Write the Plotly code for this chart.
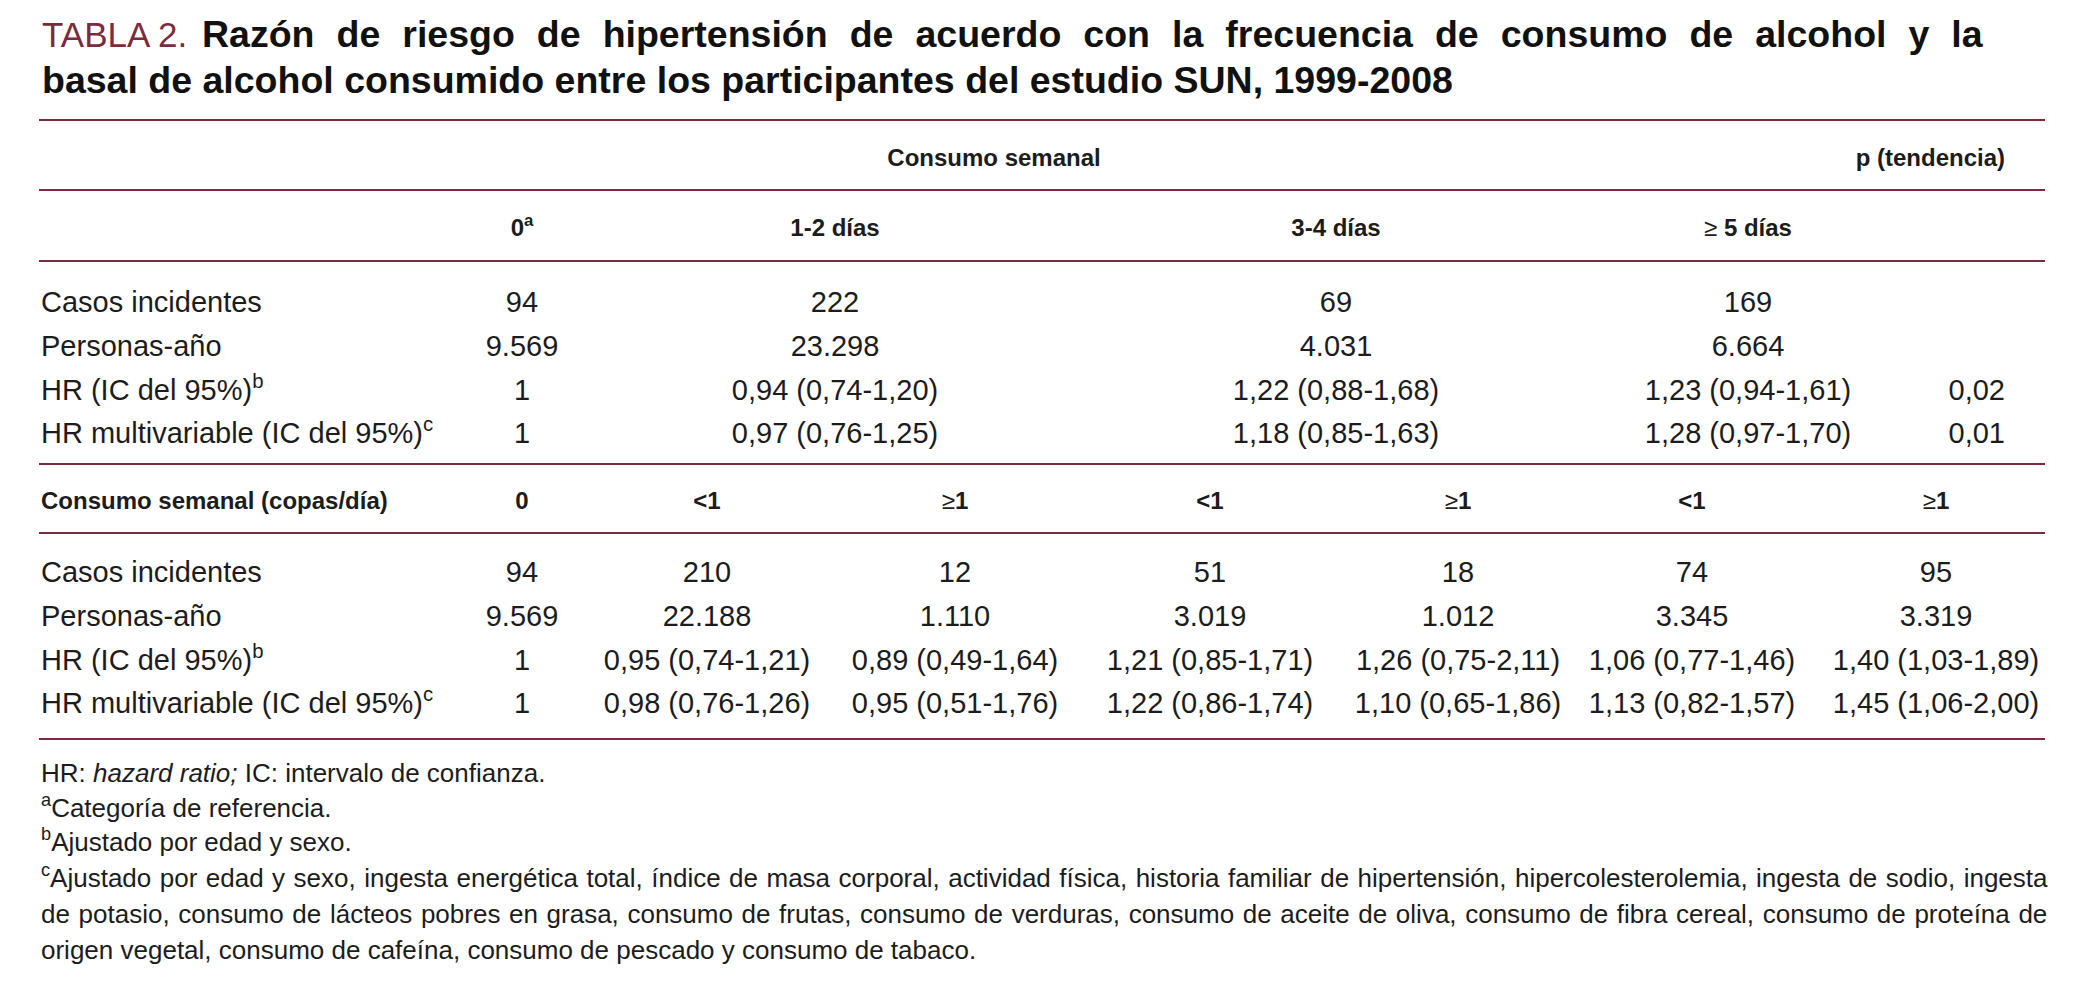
import plotly.graph_objects as go

# ---- data ----
title_tag = "TABLA 2."
title_lines = [
    "Razón de riesgo de hipertensión de acuerdo con la frecuencia de consumo de alcohol y la",
    "basal de alcohol consumido entre los participantes del estudio SUN, 1999-2008",
]

row_labels = [
    "Casos incidentes",
    "Personas-año",
    "HR (IC del 95%)<sup>b</sup>",
    "HR multivariable (IC del 95%)<sup>c</sup>",
]

# frecuencia de consumo
freq_head = "Consumo semanal"
p_head = "p (tendencia)"
freq_groups = ["0<sup>a</sup>", "1-2 días", "3-4 días", "≥ 5 días"]
freq_casos = ["94", "222", "69", "169"]
freq_personas = ["9.569", "23.298", "4.031", "6.664"]
freq_hr = ["1", "0,94 (0,74-1,20)", "1,22 (0,88-1,68)", "1,23 (0,94-1,61)"]
freq_hr_multi = ["1", "0,97 (0,76-1,25)", "1,18 (0,85-1,63)", "1,28 (0,97-1,70)"]
freq_p = ["", "", "0,02", "0,01"]

# cantidad (copas/dia)
qty_label = "Consumo semanal (copas/día)"
qty_groups = ["0", "&lt;1", "≥1", "&lt;1", "≥1", "&lt;1", "≥1"]
qty_casos = ["94", "210", "12", "51", "18", "74", "95"]
qty_personas = ["9.569", "22.188", "1.110", "3.019", "1.012", "3.345", "3.319"]
qty_hr = ["1", "0,95 (0,74-1,21)", "0,89 (0,49-1,64)", "1,21 (0,85-1,71)",
          "1,26 (0,75-2,11)", "1,06 (0,77-1,46)", "1,40 (1,03-1,89)"]
qty_hr_multi = ["1", "0,98 (0,76-1,26)", "0,95 (0,51-1,76)", "1,22 (0,86-1,74)",
                "1,10 (0,65-1,86)", "1,13 (0,82-1,57)", "1,45 (1,06-2,00)"]

footnotes = [
    "HR: <i>hazard ratio;</i> IC: intervalo de confianza.",
    "<sup>a</sup>Categoría de referencia.",
    "<sup>b</sup>Ajustado por edad y sexo.",
    "<sup>c</sup>Ajustado por edad y sexo, ingesta energética total, índice de masa corporal, actividad física, historia familiar de hipertensión, hipercolesterolemia, ingesta de sodio, ingesta",
    "de potasio, consumo de lácteos pobres en grasa, consumo de frutas, consumo de verduras, consumo de aceite de oliva, consumo de fibra cereal, consumo de proteína de",
    "origen vegetal, consumo de cafeína, consumo de pescado y consumo de tabaco.",
]

# ---- layout constants ----
W, H = 2075, 995
MAROON = "#7b2b3d"
INK = "#1c1c1c"
BODY = "Liberation Sans, Arial, Helvetica, sans-serif"

x_left, x_right = 39, 2045
x_label = 41
x_freq = [522, 835, 1336, 1748]
x_freq_head = 994
x_p = 2005
x_qty = [522, 707, 955, 1210, 1458, 1692, 1936]

rules_y = [120, 190, 261, 464, 533, 739]
y_head1, y_head2 = 160, 230
y_freq_rows = [305, 349, 393, 436]
y_qty_head = 503
y_qty_rows = [575, 619, 663, 706]
y_notes = [775, 810, 844, 880, 916, 952]
# the reference justifies the wrapped lines: extra word spacing per line (px)
note_spacing = [0, 0, 0, 1.25, 1.4, 0]

body_size = 29
head_size = 24
note_size = 26
title_size = 37.5

fig = go.Figure()


def text_row(xs, ys, texts, size, pos="middle center"):
    fig.add_trace(go.Scatter(
        x=xs, y=ys, text=texts, mode="text",
        textposition=pos, hoverinfo="skip", showlegend=False,
        textfont=dict(family=BODY, size=size, color=INK),
    ))


def bold(t):
    # keep the "≥" sign in regular weight, as in the original typesetting
    if t.startswith("≥"):
        return "≥<b>%s</b>" % t[1:]
    return "<b>%s</b>" % t


# upper block headers
text_row([x_freq_head], [y_head1], [bold(freq_head)], head_size)
text_row([x_p], [y_head1], [bold(p_head)], head_size, pos="middle left")
text_row(x_freq, [y_head2] * 4, [bold(g) for g in freq_groups], head_size)

# upper data rows
for y, vals in zip(y_freq_rows, [freq_casos, freq_personas, freq_hr, freq_hr_multi]):
    text_row(x_freq, [y] * len(vals), vals, body_size)
p_rows = [(y, p) for y, p in zip(y_freq_rows, freq_p) if p]
text_row([x_p] * len(p_rows), [r[0] for r in p_rows], [r[1] for r in p_rows],
         body_size, pos="middle left")

# lower block header
text_row([x_label], [y_qty_head], [bold(qty_label)], head_size, pos="middle right")
text_row(x_qty, [y_qty_head] * 7, [bold(g) for g in qty_groups], head_size)

for y, vals in zip(y_qty_rows, [qty_casos, qty_personas, qty_hr, qty_hr_multi]):
    text_row(x_qty, [y] * len(vals), vals, body_size)

# row labels
for ys in (y_freq_rows, y_qty_rows):
    text_row([x_label] * len(ys), ys, row_labels, body_size, pos="middle right")

# footnotes
notes_txt = [
    "<span style='word-spacing:%spx'>%s</span>" % (s, t) if s else t
    for t, s in zip(footnotes, note_spacing)
]
text_row([x_label] * len(notes_txt), y_notes, notes_txt, note_size, pos="middle right")

# horizontal rules
for y in rules_y:
    fig.add_shape(type="line", x0=x_left, x1=x_right, y0=y, y1=y,
                  line=dict(color=MAROON, width=2.2))

# title
fig.add_annotation(
    x=40, y=34, xanchor="left", yanchor="middle", showarrow=False,
    text=title_tag, font=dict(family=BODY, size=35, color=MAROON),
)
fig.add_annotation(
    x=200, y=34, xanchor="left", yanchor="middle", showarrow=False,
    text="<span style='word-spacing:11.6px'><b>%s</b></span>" % title_lines[0],
    font=dict(family=BODY, size=title_size, color="#111111"),
)
fig.add_annotation(
    x=40, y=80, xanchor="left", yanchor="middle", showarrow=False,
    text="<b>%s</b>" % title_lines[1],
    font=dict(family=BODY, size=title_size, color="#111111"),
)

fig.update_layout(
    width=W, height=H,
    margin=dict(l=0, r=0, t=0, b=0),
    paper_bgcolor="white", plot_bgcolor="white",
    xaxis=dict(range=[0, W], visible=False, fixedrange=True),
    yaxis=dict(range=[H, 0], visible=False, fixedrange=True),
    showlegend=False,
)

fig.write_html("out.html", post_script="document.body.style.margin='0';",
               config={"displayModeBar": False})
